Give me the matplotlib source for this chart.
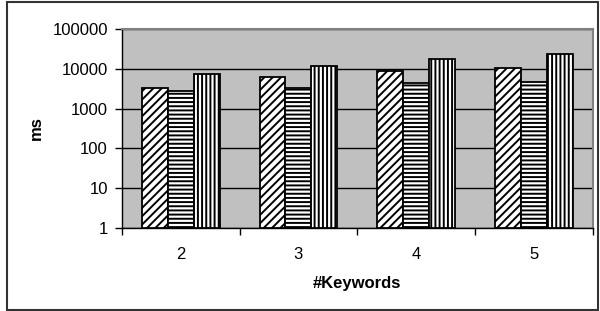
import numpy as np
import matplotlib.pyplot as plt
from matplotlib.patches import Rectangle

plt.rcParams['font.family'] = ['Liberation Sans', 'DejaVu Sans']
plt.rcParams['hatch.linewidth'] = 1.4

keywords = ["2", "3", "4", "5"]
series_a = [3200, 6200, 8600, 10600]    # diagonal hatch
series_b = [2700, 3300, 4300, 4700]     # horizontal lines
series_c = [7200, 11900, 17100, 23300]  # vertical lines
hatches = ["////", "----", "||||"]

fig = plt.figure(figsize=(6, 3.11), dpi=100)
ax = fig.add_axes([0.203, 0.267, 0.785, 0.64])

x = np.arange(len(keywords))
w = 0.22
for i, (vals, h) in enumerate(zip([series_a, series_b, series_c], hatches)):
    ax.bar(x + (i - 1) * w, vals, width=w, bottom=1, color="white",
           edgecolor="black", hatch=h, linewidth=1.3, zorder=3)

ax.set_yscale("log")
ax.set_ylim(1, 100000)
ax.set_xlim(-0.5, len(keywords) - 0.5)
ax.set_facecolor("#c0c0c0")
ax.yaxis.grid(True, color="black", linewidth=1.0, zorder=0)
ax.set_axisbelow(True)

yt = [1, 10, 100, 1000, 10000, 100000]
ax.set_yticks(yt)
ax.set_yticklabels([str(v) for v in yt])
ax.yaxis.set_minor_locator(plt.NullLocator())
ax.set_xticks(x)
ax.set_xticklabels(keywords)
ax.set_xticks(np.arange(len(keywords) + 1) - 0.5, minor=True)
ax.tick_params(axis="x", which="major", length=0, pad=14, labelsize=12)
ax.tick_params(axis="x", which="minor", length=5, width=1, direction="out")
ax.tick_params(axis="y", length=5, width=1, direction="out", labelsize=12, pad=5)

for s in ["top", "right"]:
    ax.spines[s].set_color("gray")
    ax.spines[s].set_linewidth(1.5)
for s in ["left", "bottom"]:
    ax.spines[s].set_color("black")
    ax.spines[s].set_linewidth(1.0)

ax.set_ylabel("ms", fontweight="bold", fontsize=12, labelpad=6)
ax.set_xlabel("#Keywords", fontweight="bold", fontsize=12, labelpad=10)

fig.patches.append(Rectangle((0.012, 0.003), 0.985, 0.99, transform=fig.transFigure,
                             fill=False, edgecolor="#333333", linewidth=1.5))

fig.savefig("out.png", dpi=100)
